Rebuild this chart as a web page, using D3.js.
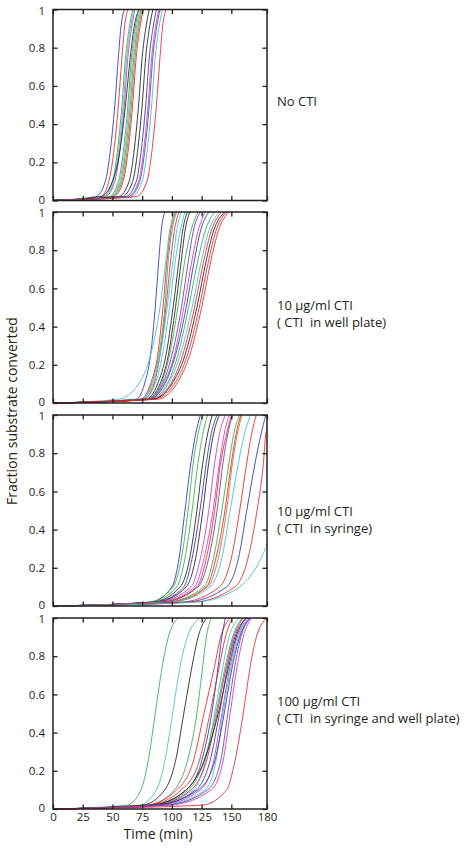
<!DOCTYPE html>
<html>
<head>
<meta charset="utf-8">
<script src="https://cdn.jsdelivr.net/npm/d3@7"></script>
<style>
  html, body { margin: 0; padding: 0; background: #fff; }
  svg { display: block; }
  text { font-family: "Open Sans", Lato, sans-serif; fill: #231f20; }
</style>
</head>
<body>
<svg id="chart" width="471" height="851"></svg>
<script>
// ---------------- data ----------------
const timeTicks = [0, 25, 50, 75, 100, 125, 150, 180];
const fractionTicks = [0, 0.2, 0.4, 0.6, 0.8, 1];
const timeDomain = [0, 180];
const fractionDomain = [0, 1];

// fraction levels; every curve lists the time (min) at which it reaches each level
const levels = [0, 0.02, 0.1, 0.25, 0.5, 0.75, 0.9, 1];

const panelLabels = [
  ["No CTI"],
  ["10 \u03bcg/ml CTI", "( CTI  in well plate)"],
  ["10 \u03bcg/ml CTI", "( CTI  in syringe)"],
  ["100 \u03bcg/ml CTI", "( CTI  in syringe and well plate)"]
];

const noCTI = [
  [0, 36, 44, 48, 52, 55, 57, 60],
  [0, 40, 47, 51, 55, 58, 60, 63],
  [0, 42, 50, 54, 58, 61, 64, 67],
  [0, 43, 51, 55, 59, 62, 65, 68],
  [0, 44, 52, 56, 60, 63, 66, 69],
  [0, 40, 50, 56, 61, 65, 68, 72],
  [0, 47, 55, 59, 63, 66, 69, 72],
  [0, 49, 57, 61, 65, 68, 71, 74],
  [0, 48, 56, 60, 64, 67, 70, 73],
  [0, 50, 58, 62, 66, 69, 72, 75],
  [0, 51, 59, 63, 67, 70, 73, 76],
  [0, 55, 64, 68, 72, 75, 78, 81],
  [0, 58, 67, 71, 75, 78, 81, 84],
  [0, 61, 70, 74, 78, 81, 84, 87],
  [0, 63, 72, 76, 80, 83, 86, 89],
  [0, 64, 73, 77, 81, 84, 87, 90],
  [0, 66, 75, 79, 83, 86, 89, 92],
  [0, 70, 79, 83, 87, 90, 92, 95]
];

const ctiWellPlate = [
  [0, 70, 77, 82, 86, 89, 91, 94],
  [0, 55, 72, 82, 90, 95, 98, 102],
  [0, 74, 82, 88, 92.5, 96, 99, 103],
  [0, 75, 83, 89, 94, 97, 100, 104],
  [0, 76, 85, 90, 95, 99, 102, 106],
  [0, 74, 84, 90, 96, 101, 104, 108],
  [0, 76, 86, 92, 98, 103, 107, 111],
  [0, 78, 88, 95, 101, 106, 109, 113],
  [0, 79, 90, 97, 103, 108, 111, 115],
  [0, 80, 91, 98, 105, 111, 116, 122],
  [0, 80, 92, 100, 108, 114, 118, 124],
  [0, 81, 93, 102, 110, 117, 122, 128],
  [0, 81, 94, 103, 112, 119, 124, 131],
  [0, 82, 96, 105, 114, 122, 128, 136],
  [0, 82, 97, 107, 117, 125, 131, 140],
  [0, 83, 99, 109, 119, 127, 133, 142],
  [0, 84, 100, 111, 121, 129, 135, 145],
  [0, 85, 102, 113, 123, 131, 137, 146],
  [0, 88, 104, 115, 125, 133, 139, 148]
];

const ctiSyringe = [
  [0, 82, 100, 106, 111, 116, 120, 124],
  [0, 80, 101, 108, 113.6, 118, 122, 126],
  [0, 82, 104, 111, 117, 122, 126, 130],
  [0, 84, 107, 115, 121, 126, 130, 134],
  [0, 86, 110, 117, 123.6, 129, 133, 138],
  [0, 87, 112, 120, 126, 131, 135, 140],
  [0, 88, 116, 124, 131, 136, 140, 145],
  [0, 90, 119, 127, 134.6, 140, 144, 148],
  [0, 92, 122, 131, 138, 143, 147, 151],
  [0, 92, 121, 129, 136, 141, 146, 150],
  [0, 95, 127, 135, 142, 148, 152, 157],
  [0, 98, 129, 137, 144.6, 150, 154, 158],
  [0, 98, 130, 139, 146, 151, 155, 159],
  [0, 100, 132, 142, 149, 156, 161, 166],
  [0, 108, 140, 150, 157, 163, 167, 171],
  [0, 112, 146, 156, 163, 170, 175, 179],
  [0, 118, 153, 164, 171.6, 177, 179, 185],
  [0, 120, 157, 175, 190, 200, 206, 212]
];

const ctiBoth = [
  [0, 62, 74, 80, 86, 92, 97, 105],
  [0, 72, 87, 94, 100.6, 107, 113, 124],
  [0, 75, 94, 103, 110, 117, 122, 129],
  [0, 80, 102, 113, 121, 126, 129, 133],
  [0, 78, 104, 118, 127, 136, 141, 149],
  [0, 82, 112, 125, 133.5, 139, 142, 145],
  [0, 80, 108, 123, 132, 140, 145, 151],
  [0, 85, 118, 128, 136, 143, 148, 157],
  [0, 84, 114, 127, 137, 145, 151, 159],
  [0, 86, 116, 129, 138, 146, 152, 160],
  [0, 83, 112, 127, 139, 148, 154, 162],
  [0, 88, 120, 132, 140, 147, 153, 163],
  [0, 90, 124, 135, 142, 149, 155, 164],
  [0, 92, 128, 137, 143, 150, 156, 165],
  [0, 86, 122, 136, 144, 151, 157, 166],
  [0, 95, 130, 141, 147, 153, 158, 166],
  [0, 98, 133, 143, 149, 155, 160, 167],
  [0, 125, 146, 153, 160, 166, 171, 180]
];

const panelSeries = [noCTI, ctiWellPlate, ctiSyringe, ctiBoth];

// ---------------- styles ----------------
const palette = {
  blue: "#2b35a8", green: "#3aa84a", red: "#e0262b", cyan: "#45b9d2",
  magenta: "#c53bb5", black: "#1f1f1f", purple: "#6a3aa6", orange: "#cf6a25"
};
const panelColors = [
  ["blue","red","green","cyan","magenta","black","green","orange","cyan","green","red","black","black","blue","magenta","purple","cyan","red"],
  ["blue","cyan","red","green","red","cyan","cyan","black","black","green","purple","magenta","blue","green","cyan","red","black","red","red"],
  ["blue","green","green","black","blue","black","magenta","magenta","purple","red","green","red","orange","cyan","red","blue","red","cyan"],
  ["green","cyan","black","green","red","blue","red","cyan","green","red","black","blue","magenta","cyan","blue","purple","magenta","red"]
];

// ---------------- layout ----------------
const plotLeft = 53, plotRight = 267, plotHeight = 191;
const panelTops = [9.5, 212, 415, 618];
const tickLen = 4.5;

const svg = d3.select("#chart");
const x = d3.scaleLinear().domain(timeDomain).range([plotLeft, plotRight]);

panelSeries.forEach((series, pi) => {
  const top = panelTops[pi];
  const y = d3.scaleLinear().domain(fractionDomain).range([top + plotHeight, top]);
  const g = svg.append("g");

  g.append("clipPath").attr("id", "clip" + pi)
    .append("rect").attr("x", plotLeft).attr("y", top - 1)
    .attr("width", plotRight - plotLeft).attr("height", plotHeight + 2);

  const line = d3.line()
    .x(d => x(d[0]))
    .y(d => y(d[1]))
    .curve(d3.curveMonotoneX);

  g.append("g").attr("clip-path", `url(#clip${pi})`)
    .selectAll("path").data(series).join("path")
    .attr("d", times => line(times.map((t, i) => [t, levels[i]])))
    .attr("fill", "none")
    .attr("stroke", (d, i) => palette[panelColors[pi][i]])
    .attr("stroke-width", 0.85);

  // axes (inward ticks on all four sides)
  const left = d3.axisLeft(y).tickValues(fractionTicks).tickSizeInner(-tickLen).tickSizeOuter(0)
    .tickFormat(d3.format("~g")).tickPadding(8);
  const right = d3.axisRight(y).tickValues(fractionTicks).tickSizeInner(-tickLen).tickSizeOuter(0).tickFormat("");
  const bottom = d3.axisBottom(x).tickValues(timeTicks).tickSizeInner(-tickLen).tickSizeOuter(0)
    .tickFormat(pi === 3 ? d3.format("d") : "").tickPadding(4);
  const topAx = d3.axisTop(x).tickValues(timeTicks).tickSizeInner(-tickLen).tickSizeOuter(0).tickFormat("");

  const ax = [
    g.append("g").attr("transform", `translate(${plotLeft},0)`).call(left),
    g.append("g").attr("transform", `translate(${plotRight},0)`).call(right),
    g.append("g").attr("transform", `translate(0,${top + plotHeight})`).call(bottom),
    g.append("g").attr("transform", `translate(0,${top})`).call(topAx)
  ];
  ax.forEach(a => {
    a.select(".domain").remove();
    a.selectAll("line").attr("stroke", "#231f20").attr("stroke-width", 1.3);
    a.selectAll("text").style("font-size", "11.5px").attr("fill", "#231f20");
  });
  // keep the stacked "0" / "1" labels between panels apart
  ax[0].selectAll(".tick text")
    .attr("dy", d => d === 0 ? "0.22em" : d === 1 ? "0.42em" : "0.32em");

  g.append("rect")
    .attr("x", plotLeft).attr("y", top)
    .attr("width", plotRight - plotLeft).attr("height", plotHeight)
    .attr("fill", "none").attr("stroke", "#231f20").attr("stroke-width", 1.5);

  // panel label
  const labelY = [106, 310, 516, 706][pi];
  const lab = g.append("text").attr("x", 277).attr("y", labelY)
    .style("font-size", "13px").style("white-space", "pre");
  panelLabels[pi].forEach((s, li) => {
    lab.append("tspan").attr("x", 277).attr("dy", li === 0 ? 0 : 17).text(s);
  });
});

svg.append("text")
  .attr("transform", "translate(17,411) rotate(-90)")
  .attr("text-anchor", "middle")
  .style("font-size", "14px")
  .text("Fraction substrate converted");

svg.append("text")
  .attr("x", 158).attr("y", 839)
  .attr("text-anchor", "middle")
  .style("font-size", "14px")
  .text("Time (min)");
</script>
</body>
</html>
